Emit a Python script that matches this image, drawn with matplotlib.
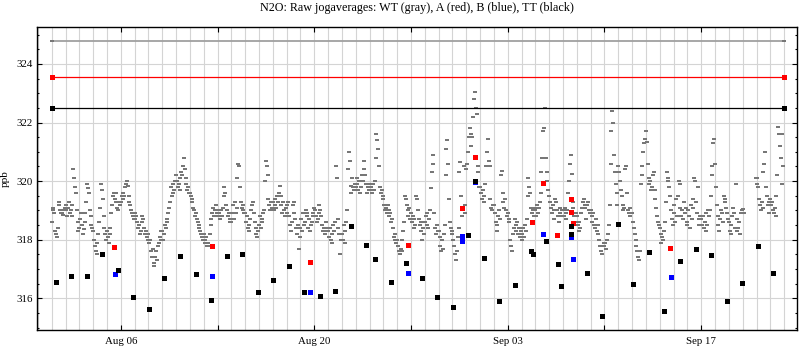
import numpy as np
import pandas as pd
import matplotlib
matplotlib.use("Agg")
import matplotlib.pyplot as plt
import matplotlib.dates as mdates
from matplotlib.ticker import MultipleLocator

nan = np.nan

# WT jog averages, one value every 90 minutes starting 2013-08-01 00:00 (16 per day)
wt_start = "2013-08-01 00:00"
wt_step = "90min"

wt_week1 = [  # Aug 1 - Aug 7
    318.6, 319.1, 319.0, 318.9, 318.3, 318.2, 318.1, 318.4, 319.3, 319.2, 319.0, 318.9, 318.9, 318.85, 319.0, 319.1,
    319.2, 319.0, 318.8, 319.1, 319.3, 318.9, 319.0, 318.8, 319.2, 320.4, 320.1, 319.8, 319.6, 319.0, 318.6, 318.3,
    318.4, 318.7, 318.9, 318.5, 318.2, 318.35, 318.6, 318.9, 319.3, 319.9, 319.75, 319.6, 319.0, 318.8, 318.5, 318.4,
    318.3, 318.0, 317.8, 317.6, 317.5, 317.9, 318.2, 318.6, 319.1, 319.9, 319.7, 319.4, 318.8, 318.4, 318.2, 318.0,
    318.3, 318.1, 317.9, 318.2, 318.4, 318.9, 319.2, 319.5, 319.6, 319.4, 319.6, 319.3, 319.1, 319.0, 319.3, 319.2,
    319.3, 319.5, 319.4, 319.6, 319.5, 319.8, 319.9, 320.0, 319.85, 319.5, 319.3, 319.2, 319.0, 318.9, 318.8, 318.7,
    318.9, 318.7, 318.8, 318.6, 318.4, 318.5, 318.2, 318.3, 318.6, 318.8, 318.7, 318.4, 318.2, 318.3, 318.1, 318.0,
]
wt_week2 = [  # Aug 8 - Aug 14
    318.2, 317.9, 318.0, 317.6, 317.4, 317.7, 317.2, 317.1, 317.4, 317.6, 317.3, 317.8, 317.9, 318.1, 318.0, 318.3,
    318.3, 318.0, 318.2, 318.5, 318.4, 318.7, 318.6, 318.9, 319.1, 319.3, 319.8, 319.5, 319.6, 319.9, 319.7, 320.0,
    320.2, 320.0, 319.8, 319.9, 319.7, 320.1, 320.3, 320.2, 320.5, 320.8, 320.4, 320.1, 319.9, 319.7, 319.8, 319.6,
    319.6, 319.5, 319.4, 319.3, 319.1, 319.0, 318.8, 318.9, 318.7, 318.6, 318.4, 318.5, 318.3, 318.2, 318.1, 318.0,
    318.2, 318.0, 317.9, 318.1, 317.8, 317.9, 317.8, 318.2, 318.5, 318.7, 318.9, 319.1, 318.8, 319.0, 319.2, 318.9,
    319.0, 318.8, 318.9, 318.7, 319.0, 318.8, 319.1, 319.5, 319.8, 319.6, 319.2, 319.0, 318.8, 318.9, 318.7, 318.6,
    318.6, 318.9, 319.2, 318.7, 319.3, 318.9, 319.1, 320.1, 320.6, 320.5, 319.8, 319.3, 319.1, 319.2, 319.0, 318.9,
]
wt_week3 = [  # Aug 15 - Aug 21
    318.9, 318.6, 318.8, 318.4, 318.5, 318.3, 318.7, 319.0, 319.2, 319.3, 318.9, 318.6, 318.4, 318.2, 318.1, 318.3,
    318.5, 318.8, 318.4, 318.7, 318.6, 318.9, 319.0, 320.0, 320.7, 320.5, 320.2, 319.4, 319.2, 319.0, 319.3, 319.1,
    319.3, 319.0, 319.2, 319.4, 319.1, 319.5, 319.3, 319.6, 319.85, 319.5, 319.2, 318.9, 319.3, 319.0, 318.8, 319.1,
    319.2, 318.9, 319.3, 318.8, 318.5, 318.3, 318.6, 319.2, 319.3, 318.9, 318.7, 318.4, 318.2, 318.5, 317.7, 318.1,
    318.4, 318.7, 318.3, 318.9, 318.5, 318.6, 319.0, 318.8, 318.9, 318.4, 318.7, 318.3, 318.5, 318.6, 318.8, 318.9,
    319.1, 319.0, 318.8, 318.6, 318.7, 318.9, 319.2, 319.0, 318.8, 318.5, 318.3, 318.4, 318.2, 318.6, 318.3, 318.4,
    318.3, 318.1, 318.4, 318.0, 318.2, 317.9, 318.5, 318.3, 318.6, 320.5, 320.1, 318.7, 318.4, 318.2, 317.5, 318.0,
]
wt_week4 = [  # Aug 22 - Aug 28
    318.2, 318.0, 318.5, 318.3, 317.9, 318.6, 319.0, 320.4, 321.0, 320.7, 319.85, 319.6, 320.1, 319.8, 319.7, 319.9,
    319.8, 320.1, 319.9, 319.7, 320.0, 319.6, 319.8, 320.2, 320.0, 320.7, 320.4, 320.2, 319.9, 319.6, 319.8, 319.7,
    319.9, 319.7, 319.8, 319.6, 319.9, 319.7, 320.0, 320.8, 321.6, 321.4, 321.1, 320.5, 319.8, 319.6, 319.7, 319.5,
    319.4, 319.2, 319.0, 319.1, 318.9, 319.2, 318.8, 319.0, 318.9, 318.6, 318.7, 318.4, 318.1, 318.0, 318.2, 317.9,
    318.0, 317.8, 317.6, 317.5, 317.7, 317.6, 318.0, 318.3, 318.6, 319.5, 319.4, 319.2, 319.0, 318.8, 319.1, 318.7,
    318.9, 318.6, 318.8, 318.4, 318.7, 318.5, 319.5, 319.4, 319.0, 318.7, 318.5, 318.3, 318.6, 318.0, 318.4, 318.2,
    318.6, 318.8, 318.5, 318.9, 318.4, 318.7, 319.0, 319.75, 320.3, 320.9, 320.6, 318.9, 318.4, 318.2, 318.5, 318.3,
]
wt_week5 = [  # Aug 29 - Sep 4
    318.3, 318.1, 317.8, 317.6, 318.0, 317.7, 318.2, 318.5, 320.2, 321.1, 321.4, 320.6, 319.4, 318.6, 318.4, 318.2,
    318.3, 318.0, 317.8, 317.5, 317.3, 317.6, 318.1, 318.4, 320.3, 320.65, 319.5, 318.8, 319.0, 320.5, 319.2, 318.9,
    320.4, 320.6, 321.0, 321.5, 321.8, 321.6, 321.2, 321.5, 322.2, 322.8, 323.05, 322.5, 322.3, 320.5, 320.3, 319.8,
    319.8, 319.6, 319.4, 319.7, 319.5, 319.3, 319.9, 320.5, 321.0, 321.45, 320.7, 320.5, 319.4, 319.1, 319.0, 319.2,
    319.2, 318.9, 318.6, 318.3, 318.5, 318.8, 319.0, 318.7, 320.2, 320.35, 319.6, 319.3, 319.1, 319.4, 319.0, 318.8,
    318.9, 318.7, 318.6, 318.0, 317.8, 317.6, 318.2, 318.4, 318.7, 318.5, 318.3, 318.6, 318.2, 318.4, 318.1, 318.3,
    318.2, 318.0, 318.4, 318.1, 318.5, 318.3, 318.7, 319.5, 320.1, 319.8, 319.6, 319.1, 318.9, 319.0, 318.8, 319.1,
]
wt_week6 = [  # Sep 5 - Sep 11
    319.0, 318.8, 319.2, 318.9, 319.1, 319.3, 319.6, 320.3, 320.8, 321.7, 321.8, 322.5, 320.8, 320.3, 320.0, 319.7,
    319.5, 319.3, 319.1, 318.9, 319.2, 319.0, 318.7, 319.4, 319.3, 319.0, 318.8, 318.6, 318.9, 319.1, 318.8, 319.0,
    319.0, 318.8, 319.1, 318.9, 318.7, 319.0, 319.6, 320.0, 320.6, 320.9, 320.25, 319.3, 319.1, 318.8, 318.6, 318.9,
    318.8, 318.5, 318.3, 318.6, 318.4, 318.9, 319.1, 319.3, 319.4, 319.2, 319.1, 318.7, 319.2, 319.3, 319.0, 318.9,
    319.0, 318.8, 318.6, 318.9, 318.5, 318.4, 318.7, 318.3, 318.5, 318.2, 318.0, 317.8, 317.6, 317.5, 317.8, 317.9,
    317.8, 317.9, 317.7, 318.0, 318.2, 318.5, 319.2, 320.6, 321.7, 322.4, 322.0, 320.9, 320.3, 319.9, 319.6, 319.2,
    320.5, 320.3, 320.0, 319.7, 319.5, 319.2, 319.0, 319.1, 320.4, 320.5, 319.6, 319.0, 318.9, 319.1, 318.8, 318.9,
]
wt_week7 = [  # Sep 12 - Sep 18
    318.9, 318.6, 318.4, 318.2, 318.0, 317.8, 317.6, 317.4, 317.3, 317.6, 319.9, 320.5, 320.2, 321.0, 321.3, 321.45,
    321.7, 321.35, 320.6, 320.1, 319.9, 320.0, 319.7, 319.8, 320.2, 320.3, 319.7, 319.4, 319.1, 318.8, 318.6, 318.5,
    318.4, 318.2, 317.9, 318.1, 318.0, 318.3, 318.6, 319.3, 320.3, 320.1, 320.0, 319.8, 319.5, 319.0, 318.7, 318.5,
    318.9, 319.2, 318.6, 319.4, 318.8, 319.5, 320.0, 319.9, 319.1, 318.8, 319.0, 318.7, 319.3, 318.9, 319.1, 318.5,
    318.6, 319.0, 318.8, 318.4, 319.2, 318.7, 319.1, 319.4, 320.1, 320.0, 319.3, 318.9, 319.8, 318.7, 318.5, 318.8,
    318.7, 318.5, 318.8, 318.4, 318.6, 318.3, 318.9, 318.5, 319.0, 318.8, 319.0, 319.5, 320.5, 320.2, 321.3, 321.45,
    320.6, 319.8, 319.2, 318.8, 318.5, 318.3, 318.7, 319.0, 318.9, 318.6, 319.5, 319.3, 319.4, 319.1, 318.9, 318.7,
]
wt_week8 = [  # Sep 19 - Sep 22 (analyser offline most of Sep 20)
    318.6, 318.3, 318.5, 318.2, 318.8, 319.1, 318.9, 318.4, 319.9, 318.7, 318.3, 318.4, 318.6, 318.2, 318.9, 319.0,
    319.05, 318.9, nan, nan, nan, nan, nan, nan, nan, nan, nan, nan, nan, nan, nan, 320.1,
    320.1, 319.9, 319.8, 319.4, 319.2, 319.0, 319.3, 319.1, 320.3, 320.6, 321.0, 319.8, 319.5, 319.2, 318.9, 319.3,
    319.4, 319.2, 319.3, 319.0, 318.9, 319.1, 318.8, 319.5, 320.2, 321.85, 321.6, 321.2, 320.8, 319.9, 321.6, 320.5,
]

# Reference tank values (ppb) and the period they apply to
wt_ref = 324.79
a_ref = 323.55
tt_ref = 322.49
ref_span = ["2013-08-01 00:00", "2013-09-22 23:00"]

# TT (target tank) jog averages
tt_times = [
    "2013-08-01 07:00", "2013-08-02 09:30", "2013-08-03 12:45", "2013-08-04 15:50", "2013-08-05 19:10",
    "2013-08-06 21:45", "2013-08-08 01:00", "2013-08-09 03:30", "2013-08-10 06:50", "2013-08-11 10:05",
    "2013-08-12 12:40", "2013-08-13 15:55", "2013-08-14 19:00", "2013-08-15 21:45", "2013-08-17 00:50",
    "2013-08-18 03:35", "2013-08-19 06:10", "2013-08-20 09:25", "2013-08-21 12:00", "2013-08-22 15:15",
    "2013-08-23 18:40", "2013-08-24 09:25", "2013-08-25 12:45", "2013-08-26 15:15", "2013-08-27 18:35",
    "2013-08-28 21:40", "2013-08-30 00:25", "2013-08-31 02:55", "2013-08-31 15:35", "2013-09-01 06:45",
    "2013-09-02 09:20", "2013-09-03 12:05", "2013-09-04 16:20", "2013-09-04 19:00", "2013-09-05 18:25",
    "2013-09-06 16:05", "2013-09-06 21:00", "2013-09-07 13:50", "2013-09-07 14:10", "2013-09-08 17:35",
    "2013-09-09 20:10", "2013-09-10 23:25", "2013-09-12 02:00", "2013-09-13 05:15", "2013-09-14 07:50",
    "2013-09-15 11:05", "2013-09-16 14:20", "2013-09-17 16:55", "2013-09-18 20:10", "2013-09-19 22:45",
    "2013-09-21 02:00", "2013-09-22 05:10",
]
tt_ppb = [
    316.56, 316.77, 316.77, 317.50, 316.97,
    316.06, 315.62, 316.70, 317.45, 316.84,
    315.94, 317.45, 317.50, 316.23, 316.63,
    317.11, 316.23, 316.08, 316.26, 318.48,
    317.82, 317.36, 316.56, 317.21, 316.70,
    316.06, 315.71, 318.15, 320.02, 317.38,
    315.92, 316.46, 317.60, 317.50, 317.95,
    317.18, 316.43, 318.48, 318.20, 316.87,
    315.40, 318.53, 316.50, 317.57, 315.58,
    317.27, 317.68, 317.48, 315.92, 316.52,
    317.79, 316.87,
]

# Standard A jog averages
a_times = [
    "2013-08-05 12:45", "2013-08-12 14:55", "2013-08-19 16:35", "2013-08-26 17:55", "2013-08-30 16:00",
    "2013-08-31 15:25", "2013-09-04 18:35", "2013-09-05 12:40", "2013-09-06 14:20", "2013-09-07 13:20",
    "2013-09-07 13:30", "2013-09-07 16:45", "2013-09-14 17:45",
]
a_ppb = [
    317.75, 317.79, 317.25, 317.83, 319.07,
    320.83, 318.62, 319.92, 318.16, 319.40,
    318.95, 318.56, 317.73,
]

# Standard B jog averages
b_times = [
    "2013-08-05 13:55", "2013-08-12 14:55", "2013-08-19 16:35", "2013-08-26 18:15", "2013-08-30 16:30",
    "2013-08-30 17:25", "2013-08-31 15:35", "2013-09-05 13:30", "2013-09-07 13:20", "2013-09-07 17:20",
    "2013-09-14 19:00",
]
b_ppb = [
    316.84, 316.77, 316.23, 316.86, 318.12,
    317.95, 319.97, 318.20, 318.08, 317.34,
    316.73,
]

# Weekly date ticks, labelled every other week
xtick_dates = ["2013-08-06", "2013-08-13", "2013-08-20", "2013-08-27",
               "2013-09-03", "2013-09-10", "2013-09-17"]
xtick_labels = ["Aug 06", "", "Aug 20", "", "Sep 03", "", "Sep 17"]
ytick_values = [316, 318, 320, 322, 324]

plt.rcParams["font.family"] = ["Liberation Serif", "DejaVu Serif"]

wt = np.array(wt_week1 + wt_week2 + wt_week3 + wt_week4 + wt_week5 + wt_week6 + wt_week7 + wt_week8)
wt_t = pd.date_range(wt_start, periods=len(wt), freq=wt_step)
span = pd.to_datetime(ref_span)

# short horizontal dash used for the WT jog averages
dash = [(-1, -0.55), (1, -0.55), (1, 0.55), (-1, 0.55), (-1, -0.55)]

fig = plt.figure(figsize=(8, 3.48), dpi=100)
ax = fig.add_axes([0.04625, 0.0517, 0.95, 0.8707])

ax.plot(wt_t, wt, ls="none", marker=dash, ms=3.0, mew=0, color="#777777", zorder=3)

ax.plot(span, [wt_ref, wt_ref], color="#a0a0a0", lw=1.3, zorder=2)
ax.plot(span, [wt_ref, wt_ref], ls="none", marker=dash, ms=3.0, mew=0, color="#777777", zorder=4)
ax.plot(span, [a_ref, a_ref], color="#ff0000", lw=0.9, marker="s", ms=3.6, mew=0, zorder=4)
ax.plot(span, [tt_ref, tt_ref], color="#000000", lw=0.9, marker="s", ms=3.6, mew=0, zorder=4)

ax.plot(pd.to_datetime(a_times), a_ppb, ls="none", marker="s", ms=3.6, mew=0, color="#ff0000", zorder=5)
ax.plot(pd.to_datetime(b_times), b_ppb, ls="none", marker="s", ms=3.6, mew=0, color="#0000ff", zorder=6)
ax.plot(pd.to_datetime(tt_times), tt_ppb, ls="none", marker="s", ms=3.6, mew=0, color="#000000", zorder=7)

ax.set_xlim(pd.Timestamp("2013-07-30 22:28"), pd.Timestamp("2013-09-23 22:20"))
ax.set_ylim(314.92, 325.26)

ax.set_xticks(pd.to_datetime(xtick_dates))
ax.set_xticklabels(xtick_labels)
ax.xaxis.set_minor_locator(mdates.DayLocator())
ax.set_yticks(ytick_values)
ax.yaxis.set_minor_locator(MultipleLocator(0.5))

ax.grid(True, which="both", axis="x", color="#d4d4d4", lw=0.8, zorder=0)
ax.grid(True, which="major", axis="y", color="#d4d4d4", lw=0.8, zorder=0)
ax.set_axisbelow(True)

ax.tick_params(axis="both", which="both", direction="in", top=True, right=True,
               labelsize=7.8, width=0.8, colors="black")
ax.tick_params(axis="x", which="major", length=3.4, pad=5)
ax.tick_params(axis="x", which="minor", length=0)
ax.tick_params(axis="y", which="major", length=3.4, pad=3)
ax.tick_params(axis="y", which="minor", length=1.7)
for s in ax.spines.values():
    s.set_linewidth(1.0)

ax.set_ylabel("ppb", fontsize=8)
ax.yaxis.set_label_coords(-0.0355, 0.5)

fig.text(0.5206, 1 - 8.5 / 348, "N2O: Raw jogaverages: WT (gray), A (red), B (blue), TT (black)",
         ha="center", va="center", fontsize=8.7)

fig.savefig("out.png", dpi=100)
